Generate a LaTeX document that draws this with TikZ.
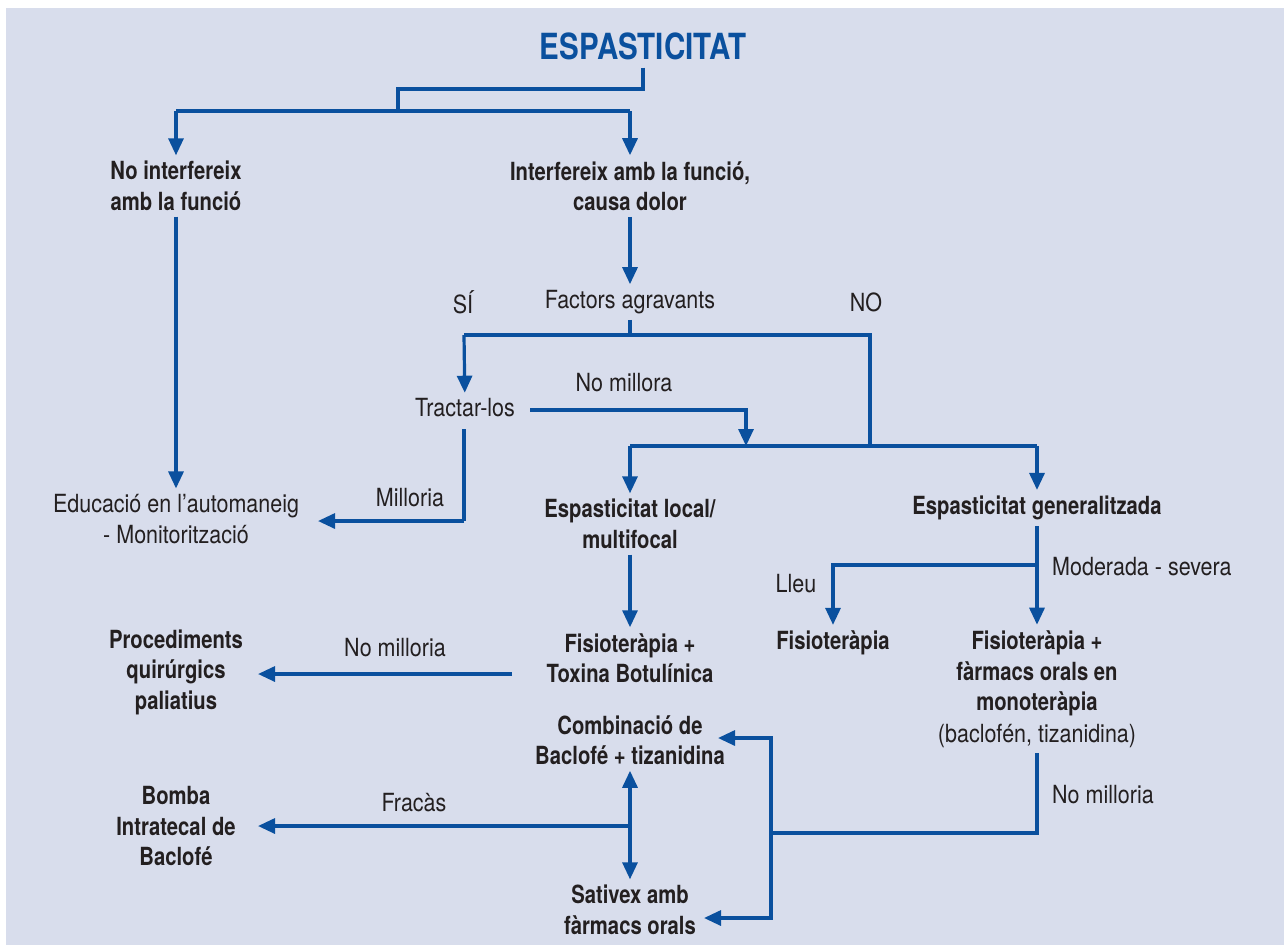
\documentclass[tikz,border=0pt]{standalone}
\usepackage{fontspec}
\setmainfont{TeX Gyre Heros}[FakeStretch=0.86,BoldFeatures={FakeStretch=0.81}]
\newfontfamily\titlefont{TeX Gyre Heros}[FakeStretch=0.82,BoldFeatures={FakeStretch=0.82}]
\usetikzlibrary{arrows.meta}
\definecolor{bgc}{RGB}{216,221,236}
\definecolor{fblue}{RGB}{10,80,158}
\definecolor{ftext}{RGB}{35,31,32}
\tikzset{
  txt/.style={align=center, inner sep=0pt, outer sep=6pt, text=ftext, font=\fontsize{25}{30.5}\selectfont},
  btxt/.style={txt, font=\fontsize{25}{30.5}\selectfont\bfseries},
  lbl/.style={inner sep=0pt, text=ftext, font=\fontsize{25}{30}\selectfont},
  conn/.style={draw=fblue, line width=3.2pt},
  arr/.style={conn, -{Triangle[width=15pt,length=17pt]}},
  darr/.style={conn, {Triangle[width=15pt,length=17pt]}-{Triangle[width=15pt,length=17pt]}}
}
\begin{document}
\begin{tikzpicture}[x=1pt,y=-1pt]
\useasboundingbox (0,0) rectangle (1284,946);
\fill[white] (0,0) rectangle (1284,946);
\fill[bgc] (6,8) rectangle (1284,945);

% nodes
\node[inner sep=0pt, outer sep=8pt, text=fblue, font=\fontsize{36}{40}\titlefont\bfseries] (title) at (643,46) {ESPASTICITAT};
\node[btxt] (noint) at (176,186) {No interfereix\\amb la funció};
\node[btxt] (inter) at (630,186) {Interfereix amb la funció,\\causa dolor};
\node[txt] (factors) at (630,302) {Factors agravants};
\node[lbl] (si) at (463,302) {SÍ};
\node[lbl] (no) at (866,302) {NO};
\node[txt] (tractar) at (465,408) {Tractar-los};
\node[lbl] (nomillora) at (624,383) {No millora};
\node[txt] (educ) at (176,519) {Educació en l’automaneig\\- Monitorització};
\node[lbl] (milloria) at (410,498) {Milloria};
\node[btxt] (local) at (630,524) {Espasticitat local/\\multifocal};
\node[btxt] (gen) at (1037,508) {Espasticitat generalitzada};
\node[lbl] (lleu) at (796,584) {Lleu};
\node[lbl, anchor=west] (modsev) at (1052,567) {Moderada - severa};
\node[btxt] (fisio) at (833,643) {Fisioteràpia};
\node[btxt] (fisiofarm) at (1037,689) {Fisioteràpia +\\fàrmacs orals en\\monoteràpia\\[1pt]{\mdseries (baclofén, tizanidina)}};
\node[btxt] (fisiotox) at (630,658) {Fisioteràpia +\\Toxina Botulínica};
\node[lbl] (nomill1) at (395,648) {No milloria};
\node[btxt] (proced) at (176,672) {Procediments\\quirúrgics\\paliatius};
\node[btxt] (combi) at (630,740) {Combinació de\\Baclofé + tizanidina};
\node[btxt] (sativex) at (630,910) {Sativex amb\\fàrmacs orals};
\node[btxt] (bomba) at (176,826) {Bomba\\Intratecal de\\Baclofé};
\node[lbl] (fracas) at (414,803) {Fracàs};
\node[lbl, anchor=west] (nomill2) at (1052,795) {No milloria};

% junction coordinates
\coordinate (c2) at (398,89);
\coordinate (c3) at (398,111);
\coordinate (barL) at (176,111);
\coordinate (barR) at (630,111);
\coordinate (fj) at (630,335);
\coordinate (sij) at (464,335);
\coordinate (noj) at (870,335);
\coordinate (noj2) at (870,446);
\coordinate (locj) at (630,446);
\coordinate (genj) at (1037,446);
\coordinate (nmj) at (746,446);
\coordinate (lj) at (1037,565);
\coordinate (ftw) at (512,674);
\coordinate (ptip) at (258,674);
\coordinate (fj2) at (630,826);
\coordinate (btip) at (258,826);
\coordinate (rmid) at (771,833);
\coordinate (rtop) at (771,738);
\coordinate (ctip) at (718,738);
\coordinate (rbot) at (771,918);
\coordinate (stip) at (704,918);
\coordinate (ffb) at (1037,833);
\coordinate (etip) at (318,521);
\coordinate (tb) at (464,521);
\coordinate (tr) at (530,410);

% connectors
\draw[conn] (title) |- (c2) -- (c3);
\draw[conn] (barL) -- (barR);
\draw[arr] (barL) -- (noint);
\draw[arr] (barR) -- (inter);
\draw[arr] (noint) -- (educ);
\draw[arr] (inter) -- (factors);
\draw[conn] (factors) -- (fj);
\draw[conn] (sij) -- (noj) -- (noj2);
\draw[arr] (sij) -- (tractar);
\draw[conn] (locj) -- (genj);
\draw[arr] (locj) -- (local);
\draw[arr] (genj) -- (gen);
\draw[arr] (tr) -| (nmj);
\draw[conn] (tractar.south -| tb) ++(0,6) -- (tb);
\draw[arr] (tb) -- (etip);
\draw[arr] (local) -- (fisiotox);
\draw[arr] (gen) -- (fisiofarm);
\draw[arr] (lj) -| (fisio);
\draw[arr] (ftw) -- (ptip);
\draw[darr] (combi) -- (sativex);
\draw[arr] (fj2) -- (btip);
\draw[conn] (fisiofarm) -- (ffb) -- (rmid);
\draw[arr] (rmid) -- (rtop) -- (ctip);
\draw[arr] (rmid) -- (rbot) -- (stip);
\end{tikzpicture}
\end{document}
